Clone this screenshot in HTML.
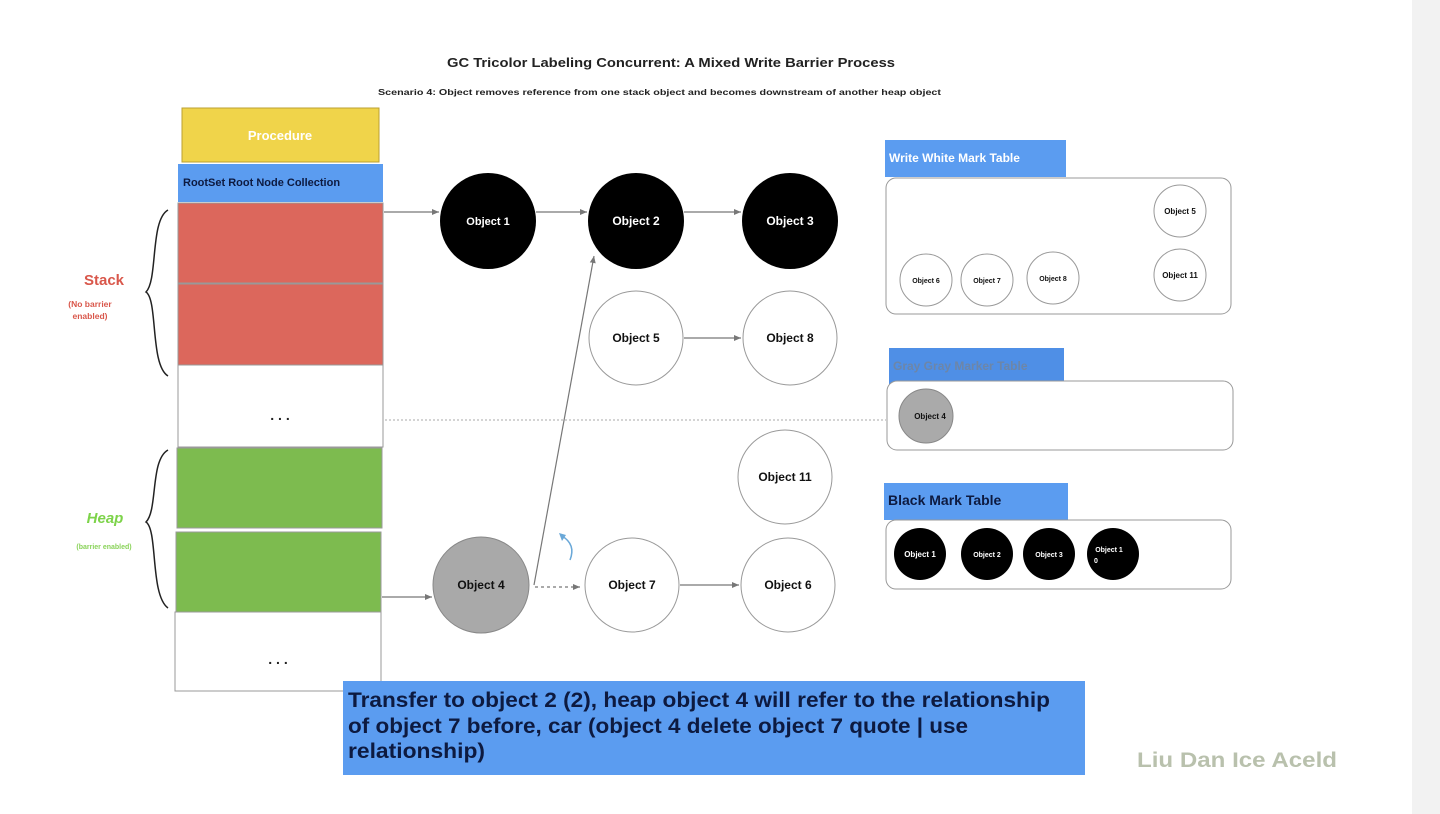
<!DOCTYPE html>
<html><head><meta charset="utf-8"><style>
html,body{margin:0;padding:0;background:#fff;}
svg{display:block;font-family:"Liberation Sans",sans-serif;font-weight:bold;}
</style></head><body>
<svg width="1440" height="814" viewBox="0 0 1440 814" xmlns="http://www.w3.org/2000/svg">
<defs>
<marker id="a" markerWidth="8" markerHeight="8" refX="7" refY="4" orient="auto" markerUnits="userSpaceOnUse"><path d="M0,1 L7,4 L0,7 Z" fill="#777"/></marker>
</defs>
<rect x="1412" y="0" width="28" height="814" fill="#f2f2f2"/>
<text x="447" y="67" font-size="13" textLength="448" lengthAdjust="spacingAndGlyphs" fill="#222">GC Tricolor Labeling Concurrent: A Mixed Write Barrier Process</text>
<text x="378" y="95" font-size="8" textLength="563" lengthAdjust="spacingAndGlyphs" fill="#222">Scenario 4: Object removes reference from one stack object and becomes downstream of another heap object</text>

<rect x="182" y="108" width="197" height="54" fill="#f0d44a" stroke="#bba030"/>
<text x="280" y="140" font-size="13" text-anchor="middle" fill="#fff">Procedure</text>
<rect x="178" y="164" width="205" height="38" fill="#5b9cf0"/>
<text x="183" y="186" font-size="11" fill="#0d1a40">RootSet Root Node Collection</text>
<rect x="178" y="203" width="205" height="80" fill="#dc675c" stroke="#999"/>
<rect x="178" y="284" width="205" height="81" fill="#dc675c" stroke="#999"/>
<rect x="178" y="365" width="205" height="82" fill="#fff" stroke="#999"/>
<text x="280" y="420" font-size="14" text-anchor="middle" fill="#222">. . .</text>
<rect x="177" y="448" width="205" height="80" fill="#7dbb4f" stroke="#999"/>
<rect x="176" y="532" width="205" height="80" fill="#7dbb4f" stroke="#999"/>
<rect x="175" y="612" width="206" height="79" fill="#fff" stroke="#999"/>
<text x="278" y="664" font-size="14" text-anchor="middle" fill="#222">. . .</text>

<path d="M168,210 C150,220 158,280 146,292 C158,300 150,365 168,376" fill="none" stroke="#222" stroke-width="1.5"/>
<path d="M168,450 C150,460 158,510 146,522 C158,530 150,595 168,608" fill="none" stroke="#222" stroke-width="1.5"/>
<text x="104" y="285" font-size="15" text-anchor="middle" fill="#d9574b">Stack</text>
<text x="90" y="307" font-size="8.5" text-anchor="middle" fill="#d9574b">(No barrier</text>
<text x="90" y="319" font-size="8.5" text-anchor="middle" fill="#d9574b">enabled)</text>
<text x="105" y="523" font-size="15" text-anchor="middle" fill="#7dd34a" font-style="italic">Heap</text>
<text x="104" y="549" font-size="7" text-anchor="middle" fill="#8ad35a">(barrier enabled)</text>

<line x1="385" y1="420" x2="886" y2="420" stroke="#aaa" stroke-dasharray="2,2"/>
<g stroke="#777" stroke-width="1.2" fill="none" marker-end="url(#a)">
<line x1="384" y1="212" x2="439" y2="212"/>
<line x1="536" y1="212" x2="587" y2="212"/>
<line x1="684" y1="212" x2="741" y2="212"/>
<line x1="684" y1="338" x2="741" y2="338"/>
<line x1="680" y1="585" x2="739" y2="585"/>
<line x1="382" y1="597" x2="432" y2="597"/>
<line x1="534" y1="585" x2="594" y2="256"/>
<line x1="535" y1="587" x2="580" y2="587" stroke-dasharray="3,3"/>
</g>
<path d="M570,560 C574,550 572,542 562,536" fill="none" stroke="#6aa8d8" stroke-width="1.5"/>
<path d="M559,533 L566,535 L562,541 Z" fill="#6aa8d8"/>

<g font-size="12" text-anchor="middle">
<circle cx="488" cy="221" r="48" fill="#000"/><text x="488" y="225" fill="#fff" font-size="11">Object 1</text>
<circle cx="636" cy="221" r="48" fill="#000"/><text x="636" y="225" fill="#fff">Object 2</text>
<circle cx="790" cy="221" r="48" fill="#000"/><text x="790" y="225" fill="#fff">Object 3</text>
<circle cx="636" cy="338" r="47" fill="#fff" stroke="#999"/><text x="636" y="342" fill="#111">Object 5</text>
<circle cx="790" cy="338" r="47" fill="#fff" stroke="#999"/><text x="790" y="342" fill="#111">Object 8</text>
<circle cx="785" cy="477" r="47" fill="#fff" stroke="#999"/><text x="785" y="481" fill="#111">Object 11</text>
<circle cx="481" cy="585" r="48" fill="#a9a9a9" stroke="#888"/><text x="481" y="589" fill="#111">Object 4</text>
<circle cx="632" cy="585" r="47" fill="#fff" stroke="#999"/><text x="632" y="589" fill="#111">Object 7</text>
<circle cx="788" cy="585" r="47" fill="#fff" stroke="#999"/><text x="788" y="589" fill="#111">Object 6</text>
</g>

<rect x="885" y="140" width="181" height="37" fill="#5b9cf0"/>
<text x="889" y="162" font-size="12" fill="#fff">Write White Mark Table</text>
<rect x="886" y="178" width="345" height="136" rx="10" fill="#fff" stroke="#999"/>
<rect x="889" y="348" width="175" height="37" fill="#4f8fe6"/>
<text x="893" y="370" font-size="12" fill="#6d86a8">Gray Gray Marker Table</text>
<rect x="887" y="381" width="346" height="69" rx="10" fill="#fff" stroke="#999"/>
<rect x="884" y="483" width="184" height="37" fill="#5b9cf0"/>
<text x="888" y="505" font-size="14" fill="#0d1a40">Black Mark Table</text>
<rect x="886" y="520" width="345" height="69" rx="10" fill="#fff" stroke="#999"/>

<g font-size="8" text-anchor="middle">
<circle cx="1180" cy="211" r="26" fill="#fff" stroke="#999"/><text x="1180" y="214" fill="#111">Object 5</text>
<circle cx="1180" cy="275" r="26" fill="#fff" stroke="#999"/><text x="1180" y="278" fill="#111">Object 11</text>
<circle cx="926" cy="280" r="26" fill="#fff" stroke="#999"/><text x="926" y="283" fill="#111" font-size="7">Object 6</text>
<circle cx="987" cy="280" r="26" fill="#fff" stroke="#999"/><text x="987" y="283" fill="#111" font-size="7">Object 7</text>
<circle cx="1053" cy="278" r="26" fill="#fff" stroke="#999"/><text x="1053" y="281" fill="#111" font-size="7">Object 8</text>
<circle cx="926" cy="416" r="27" fill="#aaa" stroke="#888"/><text x="930" y="419" fill="#111">Object 4</text>
<circle cx="920" cy="554" r="26" fill="#000"/><text x="920" y="557" fill="#fff">Object 1</text>
<circle cx="987" cy="554" r="26" fill="#000"/><text x="987" y="557" fill="#fff" font-size="7">Object 2</text>
<circle cx="1049" cy="554" r="26" fill="#000"/><text x="1049" y="557" fill="#fff" font-size="7">Object 3</text>
<circle cx="1113" cy="554" r="26" fill="#000"/><text x="1109" y="552" fill="#fff" font-size="7">Object 1</text><text x="1096" y="563" fill="#fff" font-size="7">0</text>
</g>

<rect x="343" y="681" width="742" height="94" fill="#5b9cf0"/>
<g font-size="21" fill="#0d1a40" lengthAdjust="spacingAndGlyphs">
<text x="348" y="707" textLength="702" lengthAdjust="spacingAndGlyphs">Transfer to object 2 (2), heap object 4 will refer to the relationship</text>
<text x="348" y="733" textLength="620" lengthAdjust="spacingAndGlyphs">of object 7 before, car (object 4 delete object 7 quote | use</text>
<text x="348" y="758" textLength="137" lengthAdjust="spacingAndGlyphs">relationship)</text>
</g>
<text x="1137" y="767" font-size="21" textLength="200" lengthAdjust="spacingAndGlyphs" fill="#b9c1ad">Liu Dan Ice Aceld</text>
</svg>
</body></html>
